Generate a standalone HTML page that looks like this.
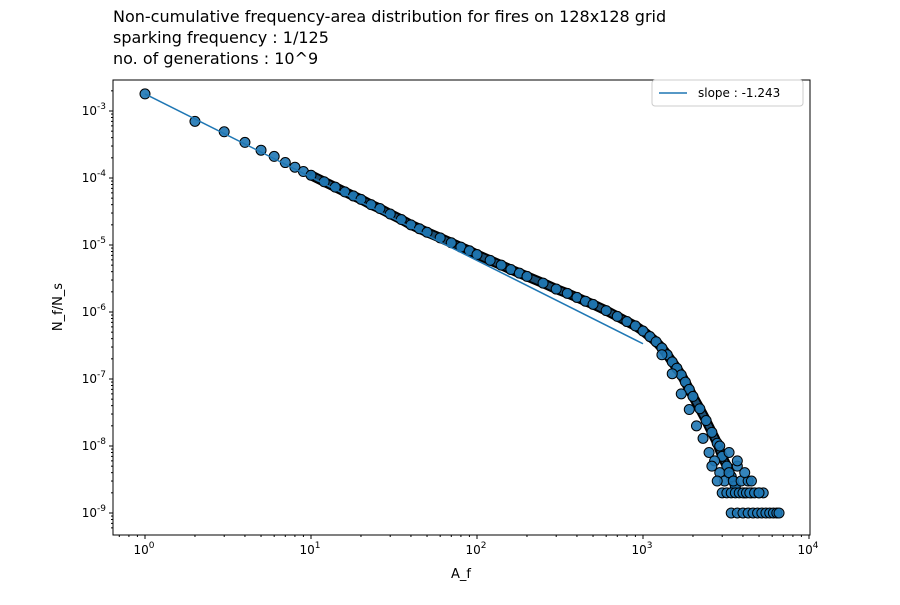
<!DOCTYPE html>
<html><head><meta charset="utf-8">
<style>
body{margin:0;background:#fff;font-family:"Liberation Sans","DejaVu Sans",sans-serif;}
svg text{font-family:"DejaVu Sans","Liberation Sans",sans-serif;}
</style></head>
<body>
<svg id="chart" width="900" height="600" xmlns="http://www.w3.org/2000/svg">
<rect width="900" height="600" fill="#fff"/>
<g font-size="16" fill="#000">
<text x="113" y="22">Non-cumulative frequency-area distribution for fires on 128x128 grid</text>
<text x="113" y="43">sparking frequency : 1/125</text>
<text x="113" y="64">no. of generations : 10^9</text>
</g>
<g id="marks"></g>
<g id="axes"></g>
</svg>
<script>
const areas=[1,2,3,4,5,6,7,8,9,10,12,14,16,18,20,23,26,30,35,40,45,50,60,70,80,90,100,120,140,160,180,200,250,300,350,400,450,500,600,700,800,900,1000,1100,1200,1300,1400,1500,1600,1700,1800,1900,2000,2200,2400,2600,2800,3000,3200,3400,3600];
const freqs=[1.8e-3,7e-4,4.9e-4,3.4e-4,2.6e-4,2.1e-4,1.7e-4,1.45e-4,1.25e-4,1.1e-4,8.8e-5,7.3e-5,6.2e-5,5.4e-5,4.8e-5,4.0e-5,3.5e-5,2.9e-5,2.4e-5,2.0e-5,1.75e-5,1.55e-5,1.28e-5,1.08e-5,9.3e-6,8.2e-6,7.2e-6,5.9e-6,5.0e-6,4.3e-6,3.8e-6,3.4e-6,2.7e-6,2.2e-6,1.9e-6,1.65e-6,1.45e-6,1.3e-6,1.05e-6,8.6e-7,7.2e-7,6.2e-7,5.2e-7,4.3e-7,3.6e-7,2.9e-7,2.3e-7,1.8e-7,1.45e-7,1.15e-7,9e-8,7e-8,5.5e-8,3.6e-8,2.4e-8,1.6e-8,1.1e-8,7e-9,5e-9,3.5e-9,2.5e-9];
const tailA=[1300,1500,1700,1900,2100,2300,2500,2700,2900,3100,3300,3500,3700,3900,4100,4300,4500,2600,2800,3000,3200,3400,3600,3800,4000,4200,4400,4700,5000,5300,3400,3700,4000,4300,4600,4900,5200,5500,5800,6100,6400,6600,2900,3300,3700,4100,4500,5000];
const tailN=[2.3e-7,1.2e-7,6e-8,3.5e-8,2e-8,1.3e-8,8e-9,6e-9,4e-9,3e-9,4e-9,3e-9,5e-9,3e-9,2e-9,3e-9,2e-9,5e-9,3e-9,2e-9,2e-9,2e-9,2e-9,2e-9,2e-9,2e-9,2e-9,2e-9,2e-9,2e-9,1e-9,1e-9,1e-9,1e-9,1e-9,1e-9,1e-9,1e-9,1e-9,1e-9,1e-9,1e-9,1e-8,8e-9,6e-9,4e-9,3e-9,2e-9];
const slope=-1.243, intercept=1.8e-3, fitMax=1000;
const xTicks=[0,1,2,3,4], yTicks=[-9,-8,-7,-6,-5,-4,-3];

const L=113,R=810,T=80,B=535;
const X=a=>145+166*Math.log10(a);
const Y=v=>111-67*(Math.log10(v)+3);
const NS="http://www.w3.org/2000/svg";
function mk(t,p,at){const e=document.createElementNS(NS,t);for(const k in at)e.setAttribute(k,at[k]);p.appendChild(e);return e;}
const marks=document.getElementById('marks'), axes=document.getElementById('axes');
let d=areas.filter(a=>a>=10).map((a,i)=>(i?'L':'M')+X(a)+','+Y(freqs[areas.indexOf(a)])).join('');
const band=mk('path',marks,{d:d,fill:'none',stroke:'#000','stroke-width':10,'stroke-linejoin':'round','stroke-linecap':'round'});


const band2=mk('path',marks,{d:d,fill:'none',stroke:'#1b4f75','stroke-width':6,'stroke-linejoin':'round'});


const allA=areas.concat(tailA), allN=freqs.concat(tailN);
allA.forEach((a,i)=>{
 const c=mk('circle',marks,{cx:X(a),cy:Y(allN[i]),r:5,fill:'#1f77b4',stroke:'#000','stroke-width':1,'fill-opacity':0.9});
 
 
});
const fit=mk('line',marks,{x1:X(1),y1:Y(intercept),x2:X(fitMax),y2:Y(intercept*Math.pow(fitMax,slope)),stroke:'#1f77b4','stroke-width':1.5});


const fr=mk('rect',axes,{x:L,y:T,width:R-L,height:B-T,fill:'none',stroke:'#000','stroke-width':1});


xTicks.forEach(k=>{
 const x=X(Math.pow(10,k));
 mk('line',axes,{x1:x,y1:B,x2:x,y2:B+4,stroke:'#000'});
 const t=mk('text',axes,{x:x-1,y:B+19,'font-size':12,'text-anchor':'middle'});
 
 
 t.innerHTML='10<tspan dy="-6" font-size="9">'+k+'</tspan>';
 for(let m=2;m<10&&k<4;m++){const xm=X(m*Math.pow(10,k));mk('line',axes,{x1:xm,y1:B,x2:xm,y2:B+2,stroke:'#000'});}
});
for(let m=6;m<10;m++){const xm=X(m/10);if(xm>L)mk('line',axes,{x1:xm,y1:B,x2:xm,y2:B+2,stroke:'#000'});}
yTicks.forEach(k=>{
 const y=Y(Math.pow(10,k));
 mk('line',axes,{x1:L-4,y1:y,x2:L,y2:y,stroke:'#000'});
 const t=mk('text',axes,{x:L-7,y:y+4,'font-size':12,'text-anchor':'end'});
 
 
 t.innerHTML='10<tspan dy="-6" font-size="9">'+k+'</tspan>';
 for(let m=2;m<10;m++){const ym=Y(m*Math.pow(10,k));if(ym>T)mk('line',axes,{x1:L-2,y1:ym,x2:L,y2:ym,stroke:'#000'});}
});
for(let m=6;m<10;m++){const ym=Y(m*1e-10);if(ym<B)mk('line',axes,{x1:L-2,y1:ym,x2:L,y2:ym,stroke:'#000'});}
const xl=mk('text',axes,{x:461,y:578,'font-size':13,'text-anchor':'middle'});xl.textContent='A_f';


const yl=mk('text',axes,{x:62,y:307,'font-size':13,'text-anchor':'middle',transform:'rotate(-90 62 307)'});yl.textContent='N_f/N_s';


const lg=mk('g',axes,{});


mk('rect',lg,{x:652,y:80,width:151,height:26,rx:3,fill:'#fff',stroke:'#ccc'});
mk('line',lg,{x1:659,y1:93,x2:687,y2:93,stroke:'#1f77b4','stroke-width':1.5});
const lt=mk('text',lg,{x:698,y:97,'font-size':12});lt.textContent='slope : -1.243';


</script>
</body></html>
